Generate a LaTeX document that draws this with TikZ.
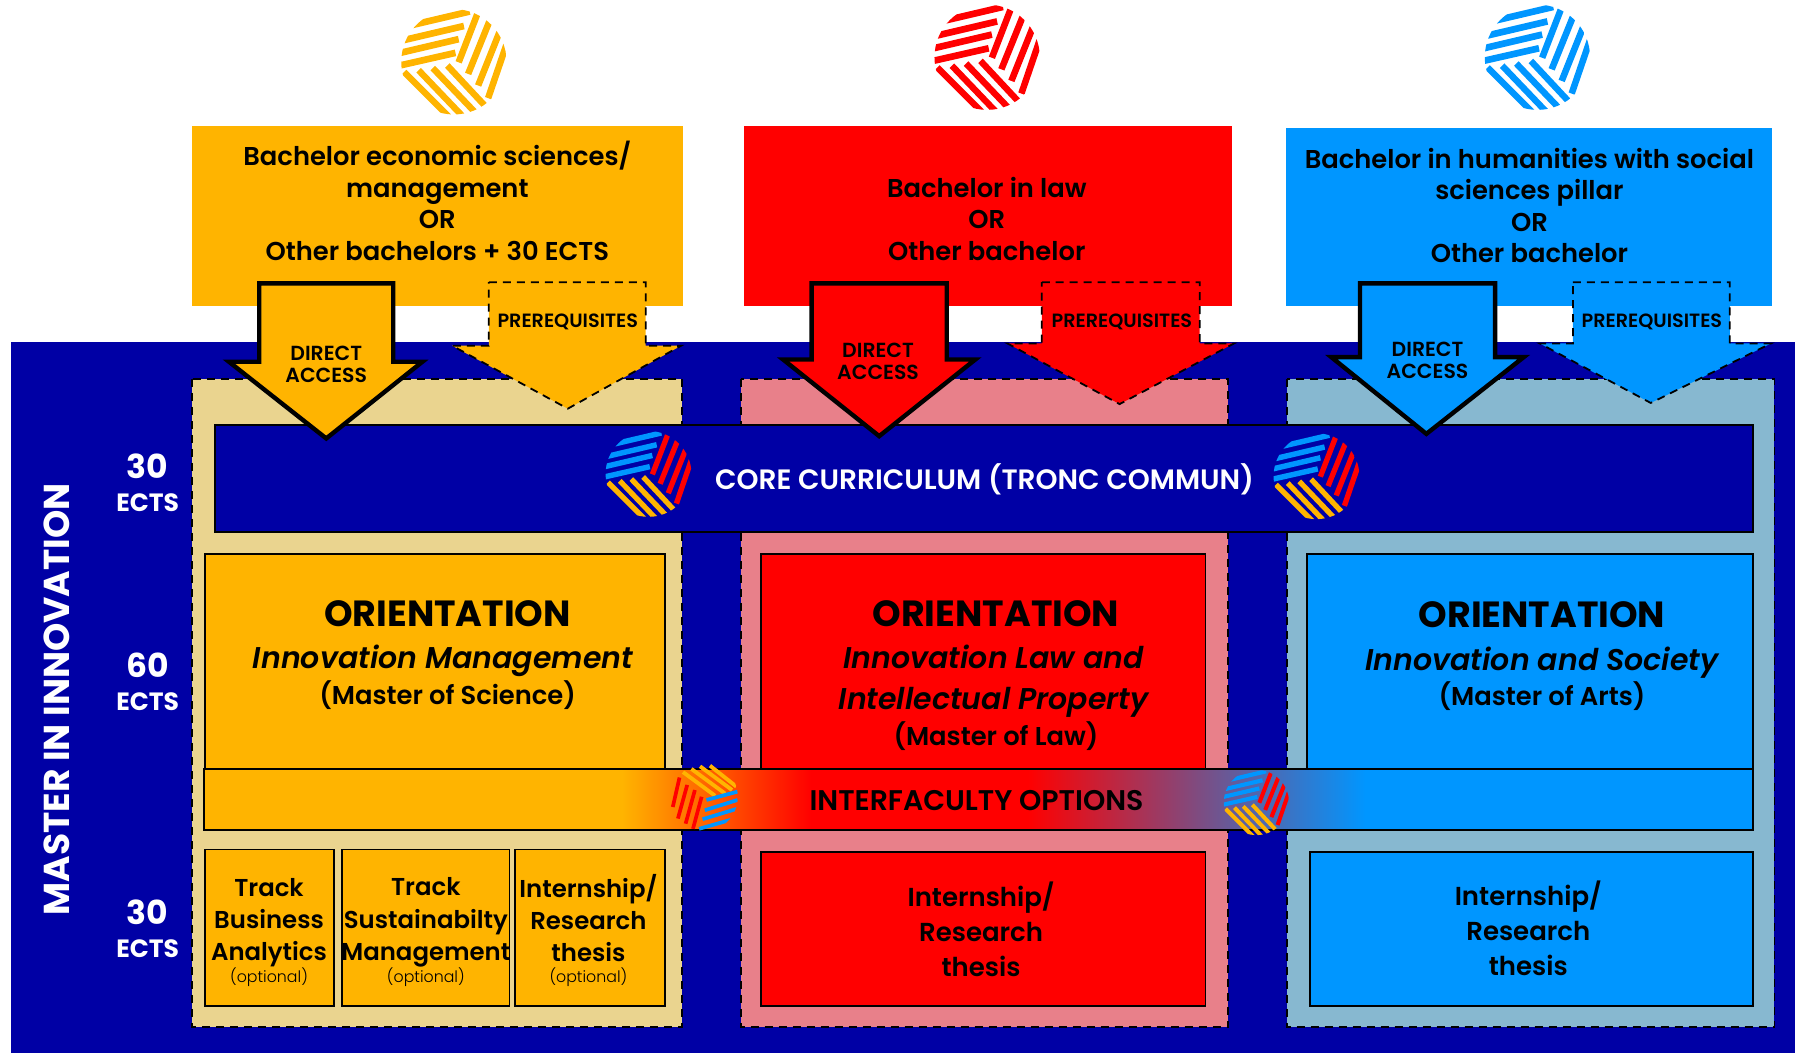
\documentclass[tikz,border=0pt]{standalone}
\usepackage{fontspec}
\setmainfont{Poppins}[UprightFont=* SemiBold,ItalicFont=* SemiBold Italic,BoldFont=* Bold,BoldItalicFont=* Bold Italic]
\newfontfamily\poplight{Poppins Light}
\definecolor{cy}{HTML}{FFB400}
\definecolor{cr}{HTML}{FF0000}
\definecolor{cb}{HTML}{0096FF}
\definecolor{navy}{HTML}{0000A5}
\definecolor{tan}{HTML}{EAD48F}
\definecolor{pinkc}{HTML}{E8808A}
\definecolor{lblue}{HTML}{87B8D0}
\pgfdeclarehorizontalshading{bandshade}{100bp}{color(0bp)=(cy);color(38.5bp)=(cy);color(44.6bp)=(cr);color(51.6bp)=(cr);color(62.5bp)=(cb);color(100bp)=(cb)}
\newcommand\stripe[6]{\fill ({#1+#5},{#2+#6}) -- ({#3+#5},{#4+#6}) -- ({#3-#5},{#4-#6}) -- ({#1-#5},{#2-#6}) -- cycle;}
% logo: x, y, radius, top colour, right colour, bottom colour
\newcommand\logo[6]{\begin{scope}[shift={(#1,#2)},x=#3*0.5725pt,y=#3*0.5725pt]
\clip (0,0) circle (1);
\begin{scope}[fill=#4]
\stripe{-1.27}{-0.125}{0.03}{0.17}{-.013}{.062}
\stripe{-1.21}{0.125}{0.09}{0.43}{-.013}{.062}
\stripe{-1.11}{0.375}{0.19}{0.68}{-.013}{.062}
\stripe{-1.00}{0.65}{0.30}{0.955}{-.013}{.062}
\end{scope}
\begin{scope}[fill=#5]
\stripe{0.09}{-0.01}{0.50}{1.05}{.058}{-.022}
\stripe{0.27}{-0.23}{0.74}{0.93}{.058}{-.022}
\stripe{0.46}{-0.45}{0.92}{0.70}{.058}{-.022}
\stripe{0.65}{-0.69}{1.04}{0.45}{.058}{-.022}
\end{scope}
\begin{scope}[fill=#6]
\stripe{-0.125}{-0.07}{0.65}{-0.90}{.043}{.043}
\stripe{-0.40}{-0.12}{0.46}{-1.02}{.043}{.043}
\stripe{-0.67}{-0.16}{0.20}{-1.07}{.043}{.043}
\stripe{-0.945}{-0.195}{-0.10}{-1.04}{.043}{.043}
\end{scope}
\end{scope}}
% the turned logo on the interfaculty band: x, y, radius
\newcommand\logoturned[3]{\begin{scope}[shift={(#1,#2)},x=#3*0.5725pt,y=#3*0.5725pt]
\clip (0,0) circle (1.08);
\begin{scope}[fill=cy]
\stripe{-.63}{.77}{.37}{.03}{.036}{.048}
\stripe{-.37}{.87}{.68}{.10}{.036}{.048}
\stripe{-.10}{.95}{.90}{.21}{.036}{.048}
\stripe{.21}{.97}{1.03}{.32}{.036}{.048}
\end{scope}
\begin{scope}[fill=cr]
\stripe{-.74}{.60}{-.95}{-.32}{.056}{-.013}
\stripe{-.50}{.37}{-.79}{-.68}{.056}{-.013}
\stripe{-.26}{.21}{-.55}{-.84}{.056}{-.013}
\stripe{-.05}{0}{-.32}{-1.0}{.056}{-.013}
\end{scope}
\begin{scope}[fill=cb]
\stripe{.10}{-.10}{1.07}{.16}{-.015}{.056}
\stripe{.05}{-.42}{1.07}{-.10}{-.015}{.056}
\stripe{-.02}{-.70}{1.07}{-.37}{-.015}{.056}
\stripe{-.13}{-1.0}{1.0}{-.68}{-.015}{.056}
\end{scope}
\end{scope}}
\tikzset{
 x=0.5725pt,y=-0.5725pt,
 every node/.style={inner sep=0pt,align=center,text=black},
 panel/.style={draw=black,line width=.9pt},
 colbg/.style={draw=black,line width=.9pt,dash pattern=on 4pt off 3pt},
 directarrow/.style={draw=black,line width=2.2pt,miter limit=10},
 prereq/.style={draw=black,line width=.9pt,dash pattern=on 4pt off 3pt},
 bachtext/.style={font=\fontsize{12.9}{15.75}\selectfont},
 orient/.style={font=\fontsize{18.2}{21}\selectfont\bfseries},
 orit/.style={font=\fontsize{15}{20.6}\selectfont\itshape},
 masterof/.style={font=\fontsize{12.9}{15}\selectfont},
 small/.style={font=\fontsize{10.2}{11}\selectfont},
 prq/.style={font=\fontsize{9.6}{11}\selectfont},
 boxtext/.style={font=\fontsize{12.2}{16.2}\selectfont},
 boxtextb/.style={font=\fontsize{13}{17.5}\selectfont},
 opt/.style={font=\fontsize{7.9}{9}\poplight},
 ectsnum/.style={text=white,font=\fontsize{16.5}{18}\selectfont\bfseries},
 ectsw/.style={text=white,font=\fontsize{12.5}{14}\selectfont\bfseries},
}
\begin{document}
\begin{tikzpicture}
\useasboundingbox (0,0) rectangle (1568,919.8);
% background
\fill[navy] (10,299) rectangle (1568,919.8);
% column backgrounds
\path[colbg,fill=tan] (168,331) rectangle (596,897);
\path[colbg,fill=pinkc] (647,331) rectangle (1073,897);
\path[colbg,fill=lblue] (1124,331) rectangle (1550,897);
% top bachelor boxes
\fill[cy] (168,110) rectangle (597,267);
\fill[cr] (650,110) rectangle (1076,267);
\fill[cb] (1123,112) rectangle (1548,267);
% logos
\logo{396.5}{54}{46}{cy}{cy}{cy}
\logo{862.3}{50}{46}{cr}{cr}{cr}
\logo{1343}{50}{46}{cb}{cb}{cb}
% core
\path[panel,fill=navy] (188,371) rectangle (1531,465);
% orientation boxes
\path[panel,fill=cy] (179,484) rectangle (581,672);
\path[panel,fill=cr] (665,484) rectangle (1053,672);
\path[panel,fill=cb] (1142,484) rectangle (1531,672);
% lower boxes
\path[panel,fill=cy] (179,742) rectangle (292,879);
\path[panel,fill=cy] (299,742) rectangle (445,879);
\path[panel,fill=cy] (450,742) rectangle (581,879);
\path[panel,fill=cr] (665,744) rectangle (1053,879);
\path[panel,fill=cb] (1144,744) rectangle (1531,879);
% interfaculty band
\shade[shading=bandshade] (178,672) rectangle (1531,725);
\draw[panel] (178,672) rectangle (1531,725);
% arrows
\path[directarrow,fill=cy] (226.5,247.5) -- (343.5,247.5) -- (343.5,316) -- (369,316) -- (285,383) -- (200,316) -- (226.5,316) -- cycle;
\path[directarrow,fill=cr] (709,247.5) -- (827,247.5) -- (827,314) -- (852,314) -- (768,381) -- (684,314) -- (709,314) -- cycle;
\path[directarrow,fill=cb] (1188,247.5) -- (1306,247.5) -- (1306,312) -- (1331,312) -- (1246,379) -- (1163,312) -- (1188,312) -- cycle;
\path[prereq,fill=cy] (427,246.5) -- (564,246.5) -- (564,302) -- (595,302) -- (496,357) -- (395,302) -- (427,302) -- cycle;
\path[prereq,fill=cr] (910,246.5) -- (1048,246.5) -- (1048,300) -- (1078,300) -- (978,353) -- (880,300) -- (910,300) -- cycle;
\path[prereq,fill=cb] (1374,246.5) -- (1511,246.5) -- (1511,300) -- (1547,300) -- (1442,352) -- (1345,300) -- (1374,300) -- cycle;
% logos on bars
\logo{566.5}{414}{37.5}{cb}{cr}{cy}
\logo{1150}{416}{37.5}{cb}{cr}{cy}
\logoturned{614.3}{696}{28}
\logo{1097.5}{701}{28.5}{cb}{cr}{cy}
% texts
\node[bachtext] (ty) at (382,175.5) {Bachelor economic sciences/\\management\\OR\\Other bachelors + 30 ECTS};
\node[bachtext] (tr) at (862,191) {Bachelor in law\\OR\\Other bachelor};
\node[bachtext] (tb) at (1336,179.5) {Bachelor in humanities with social\\sciences pillar\\OR\\Other bachelor};
\node[small] (day) at (285,318) {DIRECT\\ACCESS};
\node[small] (dar) at (767,316) {DIRECT\\ACCESS};
\node[small] (dab) at (1247,315) {DIRECT\\ACCESS};
\node[prq] (py) at (496,281) {PREREQUISITES};
\node[prq] (pr) at (980,281) {PREREQUISITES};
\node[prq] (pb) at (1443,281) {PREREQUISITES};
\node[text=white,font=\fontsize{14}{16}\selectfont] (core) at (860,419) {CORE CURRICULUM (TRONC COMMUN)};
\node[orient] (oy) at (391,536) {ORIENTATION};
\node[orit] (iy) at (387,577) {Innovation Management};
\node[masterof] (my) at (391,607) {(Master of Science)};
\node[orient] (or) at (870,536) {ORIENTATION};
\node[orit] (ir) at (868,595) {Innovation Law and\\Intellectual Property};
\node[masterof] (mr) at (870,643) {(Master of Law)};
\node[orient] (ob) at (1347,537) {ORIENTATION};
\node[orit] (ib) at (1347,578.5) {Innovation and Society};
\node[masterof] (mb) at (1347,608) {(Master of Arts)};
\node[font=\fontsize{14.2}{16}\selectfont] (inter) at (853,699) {INTERFACULTY OPTIONS};
\node[boxtext] (t1) at (235,806) {Track\\Business\\Analytics};
\node[boxtext] (t2) at (372,806) {Track\\Sustainabilty\\Management};
\node[boxtext] (t3) at (514,802) {Internship/\\Research\\thesis};
\node[opt] (o1) at (235,854) {(optional)};
\node[opt] (o2) at (372,854) {(optional)};
\node[opt] (o3) at (514,854) {(optional)};
\node[boxtextb] (t4) at (857,812) {Internship/\\Research\\thesis};
\node[boxtextb] (t5) at (1335,811) {Internship/\\Research\\thesis};
\node[rotate=90,text=white,font=\fontsize{18}{21}\selectfont\bfseries] (master) at (50,611) {MASTER IN INNOVATION};
\node[ectsnum] (n1) at (129,407) {30};
\node[ectsw] (e1) at (129,439) {ECTS};
\node[ectsnum] (n2) at (129,581) {60};
\node[ectsw] (e2) at (129,613) {ECTS};
\node[ectsnum] (n3) at (129,797) {30};
\node[ectsw] (e3) at (129,829) {ECTS};
\end{tikzpicture}
\end{document}
